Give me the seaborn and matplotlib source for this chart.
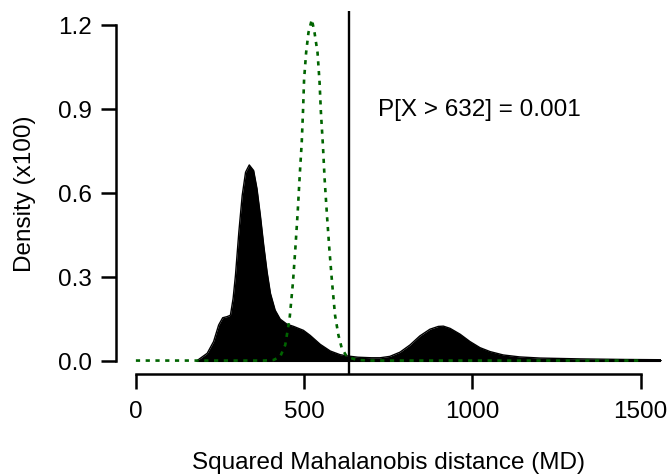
import matplotlib
matplotlib.use("Agg")
import matplotlib.pyplot as plt
import seaborn as sns

dens_x = [182, 212, 231, 246, 258, 271, 281, 289, 296, 306, 316, 326, 337, 350, 360,
          370, 380, 390, 400, 414, 429, 449, 469, 498, 518, 548, 578, 607, 632, 660,
          700, 726, 755, 785, 815, 844, 874, 899, 914, 934, 964, 993, 1023, 1053, 1092,
          1141, 1201, 1320, 1450, 1560, 1600]
dens_y = [0.0, 0.026, 0.068, 0.127, 0.153, 0.157, 0.162, 0.222, 0.305, 0.459, 0.590, 0.673,
          0.699, 0.679, 0.614, 0.519, 0.412, 0.317, 0.240, 0.180, 0.148, 0.130, 0.122, 0.108,
          0.090, 0.058, 0.034, 0.021, 0.016, 0.012, 0.010, 0.010, 0.015, 0.030, 0.056, 0.088,
          0.112, 0.122, 0.123, 0.115, 0.094, 0.068, 0.046, 0.032, 0.020, 0.013, 0.009, 0.006,
          0.004, 0.003, 0.003]

# reference (chi-square like) density, dotted green
ref_x = [0, 300, 380, 409, 429, 444, 457, 467, 474, 481, 487, 493, 497, 500, 506, 513, 523,
         531, 540, 546, 550, 556, 561, 568, 575, 583, 592, 602, 612, 627, 657, 700, 1000, 1500]
ref_y = [0.0, 0.0, 0.0, 0.002, 0.014, 0.056, 0.151, 0.281, 0.400, 0.531, 0.661, 0.780, 0.898,
         1.005, 1.100, 1.172, 1.219, 1.172, 1.100, 0.994, 0.887, 0.768, 0.649, 0.519, 0.400,
         0.281, 0.162, 0.091, 0.044, 0.014, 0.002, 0.0, 0.0, 0.0]

cutoff = 632
label_txt = "P[X > 632] = 0.001"
xticks = [0, 500, 1000, 1500]
yticks = [0.0, 0.3, 0.6, 0.9, 1.2]

sns.set_style("ticks")
plt.rcParams['font.family'] = ['Liberation Sans', 'DejaVu Sans']
plt.rcParams['text.color'] = 'black'
plt.rcParams['axes.labelcolor'] = 'black'
fs = 17.5

W, H = 669, 477
fig = plt.figure(figsize=(W / 100, H / 100), dpi=100)
ax = fig.add_axes([115.7 / W, 1 - 375 / H, 545 / W, 362.7 / H])

ax.fill_between(dens_x, dens_y, 0, color="black", linewidth=0)
sns.lineplot(x=dens_x, y=dens_y, color="black", linewidth=1.0, ax=ax)
ax.plot([dens_x[0], dens_x[-1]], [0, 0], color="black", linewidth=1.5)
sns.lineplot(x=ref_x, y=ref_y, color="#006400", linewidth=1.9,
             linestyle=(0, (1.6, 2.1)), dash_capstyle="butt", ax=ax)
ax.axvline(cutoff, color="black", linewidth=1.7)
ax.text(1022, 0.9, label_txt, ha="center", va="center", fontsize=fs, color="black")

ax.set_xlim(-60, 1560)
ax.set_ylim(-0.048, 1.248)
ax.set_xticks(xticks)
ax.set_xticklabels([str(t) for t in xticks])
ax.set_yticks(yticks)
ax.set_yticklabels([f"{t:.1f}" for t in yticks])

for s in ["top", "right"]:
    ax.spines[s].set_visible(False)
ax.spines["left"].set_bounds(0, 1.2)
ax.spines["bottom"].set_bounds(0, 1500)
for s in ["left", "bottom"]:
    ax.spines[s].set_linewidth(1.8)
    ax.spines[s].set_color("black")
ax.tick_params(axis="both", length=11, width=1.8, direction="out", colors="black",
               labelsize=fs)
ax.tick_params(axis="x", pad=8)
ax.tick_params(axis="y", pad=6)

ax.set_xlabel("Squared Mahalanobis distance (MD)", fontsize=fs, va="center")
ax.xaxis.set_label_coords(0.5, (375 - 463) / 362.7)
ax.set_ylabel("Density (x100)", fontsize=fs, va="center")
ax.yaxis.set_label_coords((25 - 115.7) / 545, 0.5)

fig.savefig("out.png", dpi=100)
